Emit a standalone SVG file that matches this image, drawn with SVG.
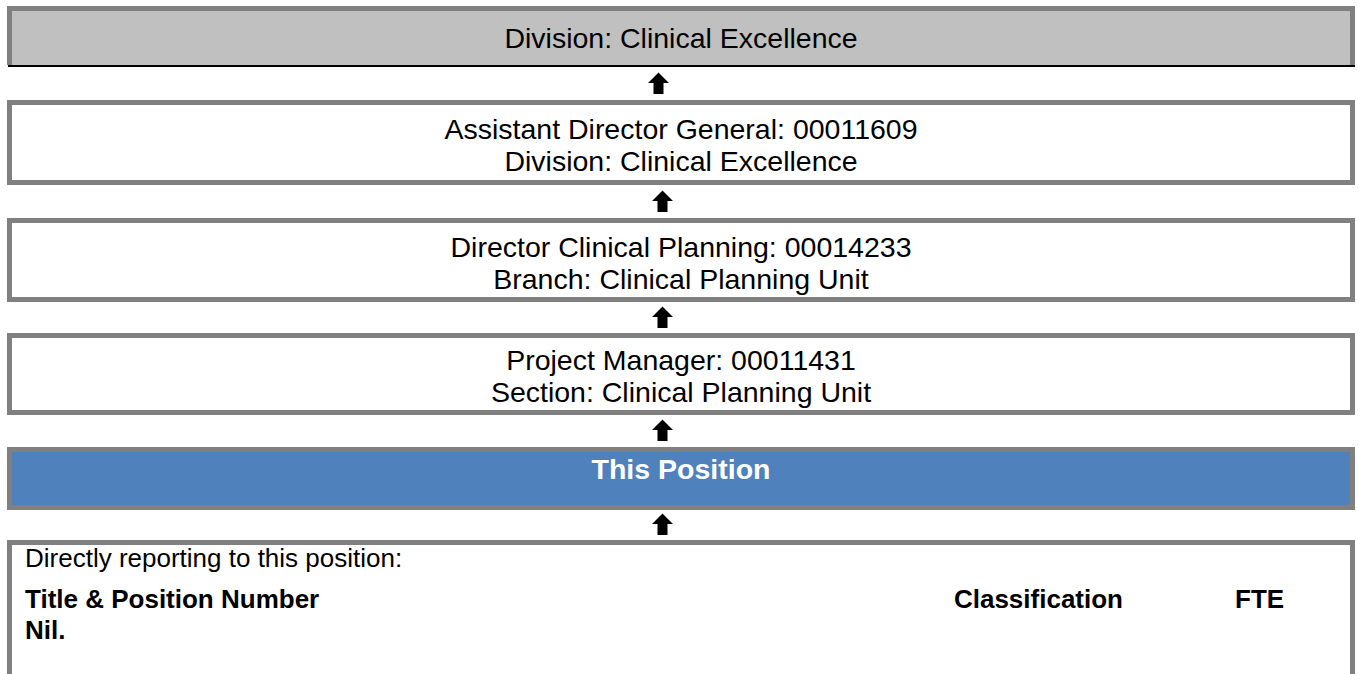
<svg xmlns="http://www.w3.org/2000/svg" width="1358" height="674" viewBox="0 0 1358 674">
<style>
.t{font-family:"Liberation Sans",Arial,sans-serif;font-size:28.5px;fill:#000}
.s{font-size:26px}
.c{text-anchor:middle}
.b{font-weight:bold}
.box{fill:#fff;stroke:#808080;stroke-width:5}
.arr{fill:#000}
</style>
<defs>
<path id="arrow" d="M0,0 L10.5,-10.5 L21,0 L15.5,0 L15.5,11 L5.5,11 L5.5,0 Z"/>
</defs>
<rect width="1358" height="674" fill="#fff"/>
<g id="division">
<rect x="7" y="6" width="1348" height="59" fill="#c0c0c0"/>
<rect x="7" y="6" width="1348" height="5" fill="#808080"/>
<rect x="7" y="6" width="5" height="59" fill="#808080"/>
<rect x="1350" y="6" width="5" height="59" fill="#808080"/>
<rect x="8" y="65" width="1347" height="2" fill="#000"/>
<text class="t c" x="681" y="48">Division: Clinical Excellence</text>
</g>
<g id="adg">
<rect class="box" x="9.5" y="102.5" width="1343" height="80"/>
<text class="t c" x="681" y="139">Assistant Director General: 00011609</text>
<text class="t c" x="681" y="171">Division: Clinical Excellence</text>
</g>
<g id="director">
<rect class="box" x="9.5" y="220.5" width="1343" height="79"/>
<text class="t c" x="681" y="257">Director Clinical Planning: 00014233</text>
<text class="t c" x="681" y="289">Branch: Clinical Planning Unit</text>
</g>
<g id="pm">
<rect class="box" x="9.5" y="335.5" width="1343" height="77"/>
<text class="t c" x="681" y="370">Project Manager: 00011431</text>
<text class="t c" x="681" y="402">Section: Clinical Planning Unit</text>
</g>
<g id="this-position">
<rect x="9.5" y="449.5" width="1343" height="58" fill="#4f81bd" stroke="#808080" stroke-width="5"/>
<text class="t c b" x="681" y="479" style="fill:#fff">This Position</text>
</g>
<g id="reports">
<rect class="box" x="9.5" y="542.5" width="1343" height="160"/>
<text class="t s" x="25" y="567">Directly reporting to this position:</text>
<text class="t s b" x="25" y="608">Title &amp; Position Number</text>
<text class="t s b" x="1123" y="608" text-anchor="end">Classification</text>
<text class="t s b" x="1235" y="608">FTE</text>
<text class="t s b" x="25" y="639">Nil.</text>
</g>
<g id="connectors" class="arr">
<use href="#arrow" x="648" y="83"/>
<use href="#arrow" x="652" y="201"/>
<use href="#arrow" x="652" y="317"/>
<use href="#arrow" x="652" y="430"/>
<use href="#arrow" x="652" y="524"/>
</g>
</svg>
